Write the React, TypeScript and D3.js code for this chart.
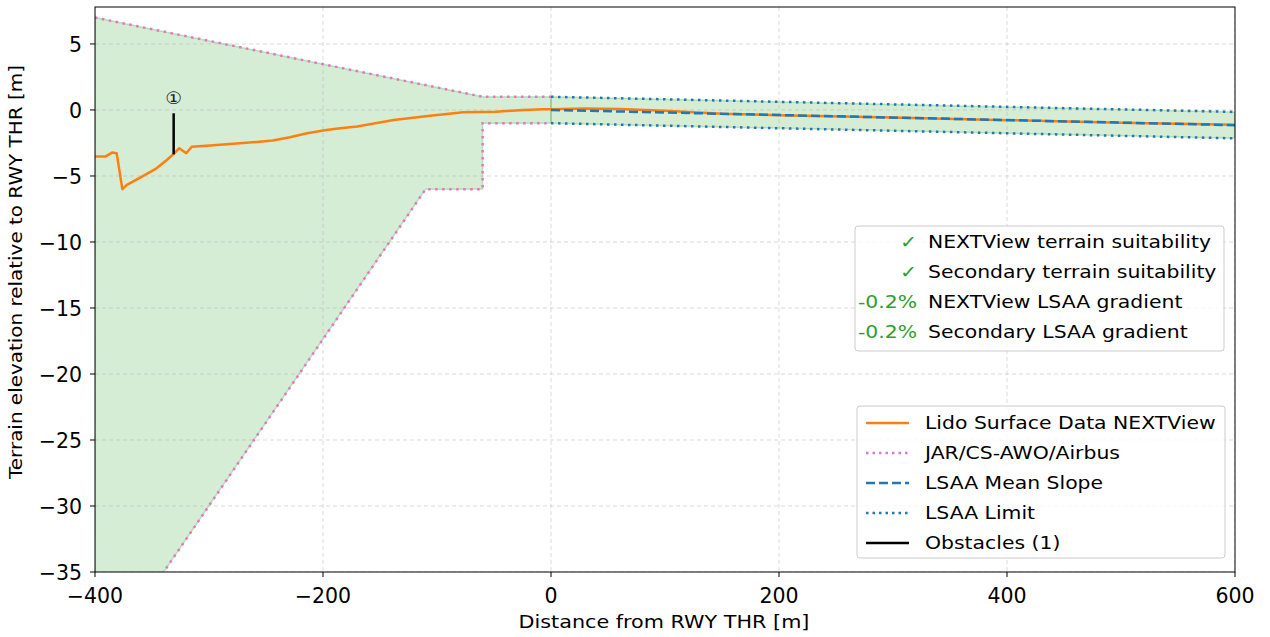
import React from "react";
import * as d3 from "d3";

const terrainX = [-400, -391, -385, -381, -376, -372, -360, -346, -337, -331, -326, -320, -315, -299, -273, -244, -229, -214, -197, -185, -170, -138, -106, -77, -48, -24, -7, 0, 30, 60, 100, 150, 200, 300, 400, 500, 600];
const terrainY = [-3.53, -3.53, -3.23, -3.28, -6.0, -5.68, -5.1, -4.42, -3.79, -3.33, -2.9, -3.28, -2.78, -2.7, -2.53, -2.32, -2.07, -1.77, -1.52, -1.39, -1.26, -0.76, -0.43, -0.18, -0.13, 0.0, 0.05, 0.05, 0.12, 0.08, -0.05, -0.28, -0.4, -0.58, -0.77, -0.96, -1.12];

const envUpperX = [-400, -60, 0];
const envUpperY = [7.0, 1.0, 1.0];
const envLowerX = [-400, -110, -60, -60, 0];
const envLowerY = [-42.6, -6.0, -6.0, -1.0, -1.0];

const lsaaX = [0, 600];
const lsaaMean = [0.0, -1.15];
const lsaaUpper = [1.0, -0.15];
const lsaaLower = [-1.0, -2.15];

const obstacleX = [-331];
const obstacleBase = [-3.36];
const obstacleTop = [-0.25];
const obstacleLabels = ["\u2460"];

const xTicks = [-400, -200, 0, 200, 400, 600];
const yTicks = [5, 0, -5, -10, -15, -20, -25, -30, -35];

const infoMarks = ["\u2713", "\u2713", "-0.2%", "-0.2%"];
const infoTexts = ["NEXTView terrain suitability", "Secondary terrain suitability", "NEXTView LSAA gradient", "Secondary LSAA gradient"];
const legendLabels = ["Lido Surface Data NEXTView", "JAR/CS-AWO/Airbus", "LSAA Mean Slope", "LSAA Limit", "Obstacles (1)"];

const ORANGE = "#ff7f0e";
const PINK = "#e377c2";
const BLUE = "#1f77b4";
const GREEN = "#2ca02c";
const FONT = "DejaVu Sans, sans-serif";

function SText(props: { x: number; y: number; s?: number; size: number; anchor?: string; fill?: string; rotate?: number; children: React.ReactNode }) {
  const { x, y, s = 1.165, size, anchor = "start", fill = "#000", rotate = 0, children } = props;
  return (
    <text
      transform={`translate(${x},${y}) rotate(${rotate}) scale(${s},1)`}
      textAnchor={anchor as any}
      fontSize={size}
      fill={fill}
    >
      {children}
    </text>
  );
}

export default function App() {
  const left = 95, right = 1235, top = 7, bottom = 572;
  const x = d3.scaleLinear().domain([-400, 600]).range([left, right]);
  const y = d3.scaleLinear().domain([-35, 7.8]).range([bottom, top]);
  const fmt = (v: number) => (v < 0 ? "\u2212" + Math.abs(v) : String(v));

  const line = d3.line<[number, number]>().x((d) => x(d[0])).y((d) => y(d[1]));
  const zip = (xs: number[], ys: number[]) => xs.map((v, i) => [v, ys[i]] as [number, number]);

  const envPoly = [...zip(envUpperX, envUpperY), ...zip(envLowerX, envLowerY).reverse()];
  const lsaaPoly = [...zip(lsaaX, lsaaUpper), ...zip(lsaaX, lsaaLower).reverse()];

  const legendStyles = [
    { stroke: ORANGE, dash: undefined, w: 2.5 },
    { stroke: PINK, dash: "2.5,4", w: 2.5 },
    { stroke: BLUE, dash: "9,4", w: 2.5 },
    { stroke: BLUE, dash: "2.5,4", w: 2.5 },
    { stroke: "#000", dash: undefined, w: 2.5 },
  ];

  return (
    <svg width={1270} height={637} style={{ position: "absolute", left: 0, top: 0, background: "#fff" }} fontFamily={FONT}>
      <defs>
        <clipPath id="plot">
          <rect x={left} y={top} width={right - left} height={bottom - top} />
        </clipPath>
      </defs>
      <g clipPath="url(#plot)">
        <path d={line(envPoly) + "Z"} fill={GREEN} fillOpacity={0.2} stroke={GREEN} strokeOpacity={0.25} strokeWidth={1.5} />
        <path d={line(lsaaPoly) + "Z"} fill={GREEN} fillOpacity={0.2} stroke={GREEN} strokeOpacity={0.25} strokeWidth={1.5} />
        {xTicks.map((t) => (
          <line key={"gx" + t} x1={x(t)} x2={x(t)} y1={top} y2={bottom} stroke="#b0b0b0" strokeOpacity={0.6} strokeDasharray="4,3" strokeWidth={0.8} />
        ))}
        {yTicks.map((t) => (
          <line key={"gy" + t} x1={left} x2={right} y1={y(t)} y2={y(t)} stroke="#b0b0b0" strokeOpacity={0.6} strokeDasharray="4,3" strokeWidth={0.8} />
        ))}
        <path d={line(zip(envUpperX, envUpperY))!} fill="none" stroke={PINK} strokeWidth={2.5} strokeDasharray="2.5,4.5" />
        <path d={line(zip(envLowerX, envLowerY))!} fill="none" stroke={PINK} strokeWidth={2.5} strokeDasharray="2.5,4.5" />
        <path d={line(zip(terrainX, terrainY))!} fill="none" stroke={ORANGE} strokeWidth={2.5} strokeLinejoin="round" />
        <path d={line(zip(lsaaX, lsaaUpper))!} fill="none" stroke={BLUE} strokeWidth={2.5} strokeDasharray="2.5,4.5" />
        <path d={line(zip(lsaaX, lsaaLower))!} fill="none" stroke={BLUE} strokeWidth={2.5} strokeDasharray="2.5,4.5" />
        <path d={line(zip(lsaaX, lsaaMean))!} fill="none" stroke={BLUE} strokeWidth={2.5} strokeDasharray="9,4" />
        {obstacleX.map((o, i) => (
          <g key={"ob" + i}>
            <line x1={x(o)} x2={x(o)} y1={y(obstacleBase[i])} y2={y(obstacleTop[i])} stroke="#000" strokeWidth={2.5} />
            <SText x={x(o)} y={y(obstacleTop[i]) - 9} size={17} s={1.1} anchor="middle" fill="#222">{obstacleLabels[i]}</SText>
          </g>
        ))}
      </g>
      <rect x={left} y={top} width={right - left} height={bottom - top} fill="none" stroke="#000" strokeWidth={1} />
      {xTicks.map((t) => (
        <g key={"xt" + t}>
          <line x1={x(t)} x2={x(t)} y1={bottom} y2={bottom + 5} stroke="#000" strokeWidth={1} />
          <SText x={x(t)} y={bottom + 31} size={20.5} s={1} anchor="middle">{fmt(t)}</SText>
        </g>
      ))}
      {yTicks.map((t) => (
        <g key={"yt" + t}>
          <line x1={left - 5} x2={left} y1={y(t)} y2={y(t)} stroke="#000" strokeWidth={1} />
          <SText x={left - 13} y={y(t) + 8} size={20.5} s={1} anchor="end">{fmt(t)}</SText>
        </g>
      ))}
      <SText x={664} y={628} size={17.5} s={1.185} anchor="middle">Distance from RWY THR [m]</SText>
      <SText x={22} y={272} size={17.5} s={1.14} anchor="middle" rotate={-90}>Terrain elevation relative to RWY THR [m]</SText>

      <rect x={855} y={226} width={369} height={125} rx={3} fill="#fff" fillOpacity={0.8} stroke="#ccc" strokeWidth={1} />
      {infoTexts.map((t, i) => (
        <g key={"info" + i}>
          <SText x={917} y={242 + i * 30 + 6} size={17.5} anchor="end" fill={GREEN}>{infoMarks[i]}</SText>
          <SText x={928} y={242 + i * 30 + 6} size={17.5}>{t}</SText>
        </g>
      ))}

      <rect x={857} y={406} width={368} height={152} rx={3} fill="#fff" fillOpacity={0.8} stroke="#ccc" strokeWidth={1} />
      {legendLabels.map((t, i) => (
        <g key={"lg" + i}>
          <line x1={866} x2={909} y1={423 + i * 30} y2={423 + i * 30} stroke={legendStyles[i].stroke} strokeWidth={legendStyles[i].w} strokeDasharray={legendStyles[i].dash} />
          <SText x={925} y={423 + i * 30 + 6} size={17.5}>{t}</SText>
        </g>
      ))}
    </svg>
  );
}
